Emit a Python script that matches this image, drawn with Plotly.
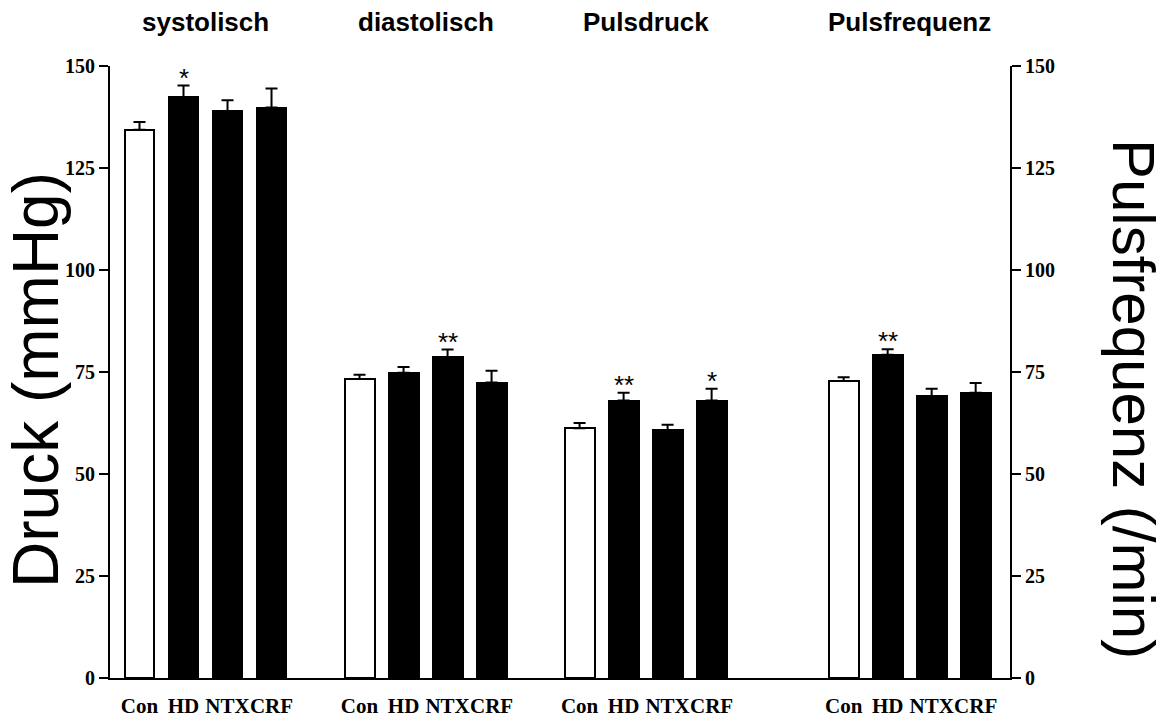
import plotly.graph_objects as go

# Measurements per parameter group (mean and SEM per study group)
groups = ["Con", "HD", "NTX", "CRF"]
panels = ["systolisch", "diastolisch", "Pulsdruck", "Pulsfrequenz"]

systolisch_mean = [134.4, 142.3, 138.9, 139.8]
systolisch_sem = [1.9, 2.9, 2.7, 4.7]
diastolisch_mean = [73.3, 74.8, 78.7, 72.4]
diastolisch_sem = [1.0, 1.4, 1.8, 2.9]
pulsdruck_mean = [61.2, 68.0, 60.7, 68.0]
pulsdruck_sem = [1.3, 1.9, 1.4, 2.9]
pulsfrequenz_mean = [72.8, 79.2, 69.0, 69.9]
pulsfrequenz_sem = [0.9, 1.4, 1.9, 2.4]

systolisch_sig = ["", "*", "", ""]
diastolisch_sig = ["", "", "**", ""]
pulsdruck_sig = ["", "**", "", "*"]
pulsfrequenz_sig = ["", "**", "", ""]

y_ticks = [0, 25, 50, 75, 100, 125, 150]

means = [systolisch_mean, diastolisch_mean, pulsdruck_mean, pulsfrequenz_mean]
sems = [systolisch_sem, diastolisch_sem, pulsdruck_sem, pulsfrequenz_sem]
sigs = [systolisch_sig, diastolisch_sig, pulsdruck_sig, pulsfrequenz_sig]

# slot offset of each panel's first bar on the shared x axis
panel_start = [0, 5, 10, 16]
bar_fill = ["white", "black", "black", "black"]

fig = go.Figure()
tick_pos, tick_txt = [], []
annotations = []

for p, name in enumerate(panels):
    xs = [panel_start[p] + i for i in range(len(groups))]
    tick_pos += xs
    tick_txt += groups
    axis = "y2" if name == "Pulsfrequenz" else "y"
    fig.add_trace(go.Bar(
        x=xs, y=means[p], width=0.68,
        marker=dict(color=bar_fill, line=dict(color="black", width=2)),
        error_y=dict(type="data", array=sems[p], arrayminus=[0] * 4,
                     symmetric=False, color="black", thickness=2, width=6),
        yaxis=axis, showlegend=False, hoverinfo="skip",
    ))
    for x, m, s, star in zip(xs, means[p], sems[p], sigs[p]):
        if star:
            annotations.append(dict(
                x=x, y=m + s, xref="x", yref=axis, text=star, showarrow=False,
                xanchor="center", yanchor="bottom", yshift=-9,
                font=dict(family="Liberation Sans", size=26, color="black"),
            ))
    annotations.append(dict(
        x=(xs[0] + xs[-1]) / 2, y=1, xref="x", yref="paper", text="<b>%s</b>" % name,
        showarrow=False, xanchor="center", yanchor="middle", yshift=44,
        font=dict(family="Liberation Sans", size=26, color="black"),
    ))

annotations.append(dict(
    x=0, y=0.487, xref="paper", yref="paper", text="Druck (mmHg)", textangle=-90,
    showarrow=False, xanchor="center", yanchor="middle", xshift=-74,
    font=dict(family="Liberation Sans", size=64, color="black"),
))
annotations.append(dict(
    x=1, y=0.456, xref="paper", yref="paper", text="Pulsfrequenz (/min)", textangle=90,
    showarrow=False, xanchor="center", yanchor="middle", xshift=123,
    font=dict(family="Liberation Sans", size=60, color="black"),
))

tick_font = dict(family="Liberation Serif", size=20, color="black")
yaxis_common = dict(
    range=[0, 150], tickvals=y_ticks, ticktext=["<b>%d</b>" % v for v in y_ticks],
    showline=True, linecolor="black", linewidth=2, ticks="outside", ticklen=9,
    tickwidth=2, tickcolor="black", showgrid=False, zeroline=False, tickfont=tick_font,
    automargin=False,
)

fig.update_layout(
    width=1169, height=722,
    margin=dict(l=110, r=159, t=66, b=44),
    paper_bgcolor="white", plot_bgcolor="white",
    bargap=0,
    xaxis=dict(
        range=[-0.67, 19.78], tickvals=tick_pos,
        ticktext=["<b>%s</b>" % t for t in tick_txt], tickangle=0,
        showline=True, linecolor="black", linewidth=2, ticks="", showgrid=False,
        zeroline=False, tickfont=dict(family="Liberation Serif", size=21, color="black"),
        ticklabelstandoff=8, automargin=False,
    ),
    yaxis=yaxis_common,
    yaxis2=dict(yaxis_common, overlaying="y", side="right"),
    annotations=annotations,
)

fig.write_html("out.html")
